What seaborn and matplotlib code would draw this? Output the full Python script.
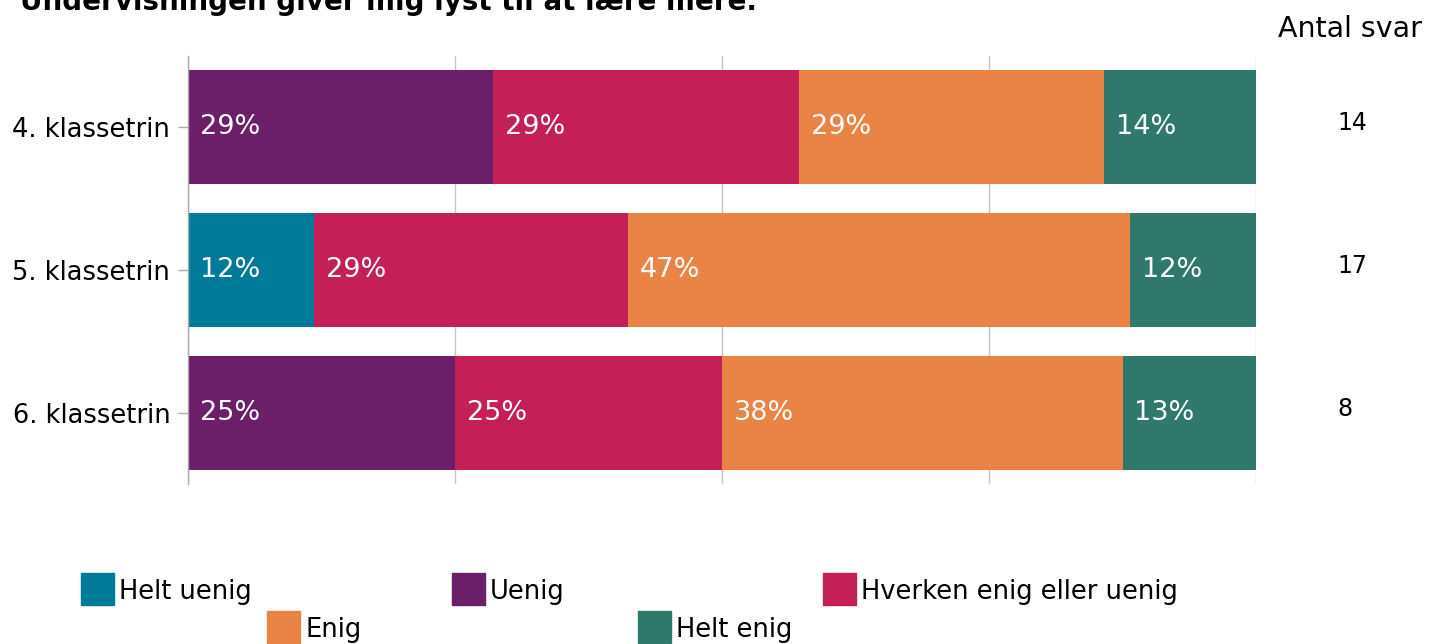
import matplotlib
matplotlib.use("Agg")
import matplotlib.pyplot as plt
import seaborn as sns
import pandas as pd
import numpy as np
from matplotlib.patches import Rectangle

# ---- data ----
title = "Undervisningen giver mig lyst til at lære mere."
grades = ["4. klassetrin", "5. klassetrin", "6. klassetrin"]
answers = [14, 17, 8]
categories = ["Helt uenig", "Uenig", "Hverken enig eller uenig", "Enig", "Helt enig"]
colors = ["#007A99", "#6A1F68", "#C42057", "#EA8446", "#31786C"]
helt_uenig = [0.0, 11.8, 0.0]
uenig = [28.6, 0.0, 25.0]
hverken = [28.6, 29.4, 25.0]
enig = [28.6, 47.0, 37.5]
helt_enig = [14.2, 11.8, 12.5]
labels = [
    ["", "29%", "29%", "29%", "14%"],
    ["12%", "", "29%", "47%", "12%"],
    ["", "25%", "25%", "38%", "13%"],
]

sns.set_theme(style="white")
plt.rcParams["font.family"] = ["DejaVu Sans"]
plt.rcParams["text.color"] = "black"
plt.rcParams["ytick.labelcolor"] = "black"

W, H = 1429, 644
fig = plt.figure(figsize=(W / 100, H / 100), dpi=100)
ax = fig.add_axes([188 / W, 1 - 484 / H, (1256 - 188) / W, (484 - 56) / H])

vals = np.array([helt_uenig, uenig, hverken, enig, helt_enig])  # cat x grade
cum = np.cumsum(vals, axis=0)

df = pd.DataFrame({"grade": grades})
for i in range(len(categories) - 1, -1, -1):
    df["v"] = cum[i]
    sns.barplot(data=df, x="v", y="grade", orient="h", color=colors[i],
                saturation=1, width=0.8, linewidth=0, ax=ax, zorder=2)

# labels inside segments
for g in range(len(grades)):
    for i in range(len(categories)):
        if labels[g][i]:
            left = cum[i][g] - vals[i][g]
            ax.text(left + 1.1, g, labels[g][i], color="white", fontsize=19.5,
                    va="center", ha="left", zorder=3)

ax.set_xlim(0, 100)
ax.set_ylim(2.5, -0.5)
ax.set_xticks([0, 25, 50, 75, 100])
ax.set_xticklabels([])
ax.tick_params(axis="x", length=0)
ax.tick_params(axis="y", length=7.2, width=1, color="#AAAAAA", pad=5.5,
               labelsize=18.5, labelcolor="black", left=True)
ax.set_xlabel("")
ax.set_ylabel("")
ax.grid(axis="x", color="#C4C4C4", linewidth=1)
ax.set_axisbelow(True)
for s in ["top", "right", "bottom"]:
    ax.spines[s].set_visible(False)
ax.spines["left"].set_color("#AAAAAA")
ax.spines["left"].set_linewidth(1)
ax.spines["left"].set_zorder(4)

# title and answer counts
fig.text(20 / W, 1 - 10 / H, title, fontsize=20, fontweight="bold", ha="left",
         va="baseline", color="black")
fig.text(1278 / W, 1 - 37 / H, "Antal svar", fontsize=20.5, ha="left",
         va="baseline", color="black")
for g, n in enumerate(answers):
    disp = ax.transData.transform((0, g))
    yfig = fig.transFigure.inverted().transform(disp)[1]
    fig.text(1337 / W, yfig + 4 / H, str(n), fontsize=17, ha="left", va="center",
             color="black")

# legend
leg_pos = [(81, 573), (452, 573), (823, 573), (267, 611), (638, 611)]
for (x, y), c, name in zip(leg_pos, colors, categories):
    fig.patches.append(Rectangle((x / W, 1 - (y + 32) / H), 33 / W, 32 / H,
                                 transform=fig.transFigure, color=c))
    fig.text((x + 38) / W, 1 - (y + 19) / H, name, fontsize=18.5, ha="left",
             va="center", color="black")

fig.savefig("out.png", dpi=100)
